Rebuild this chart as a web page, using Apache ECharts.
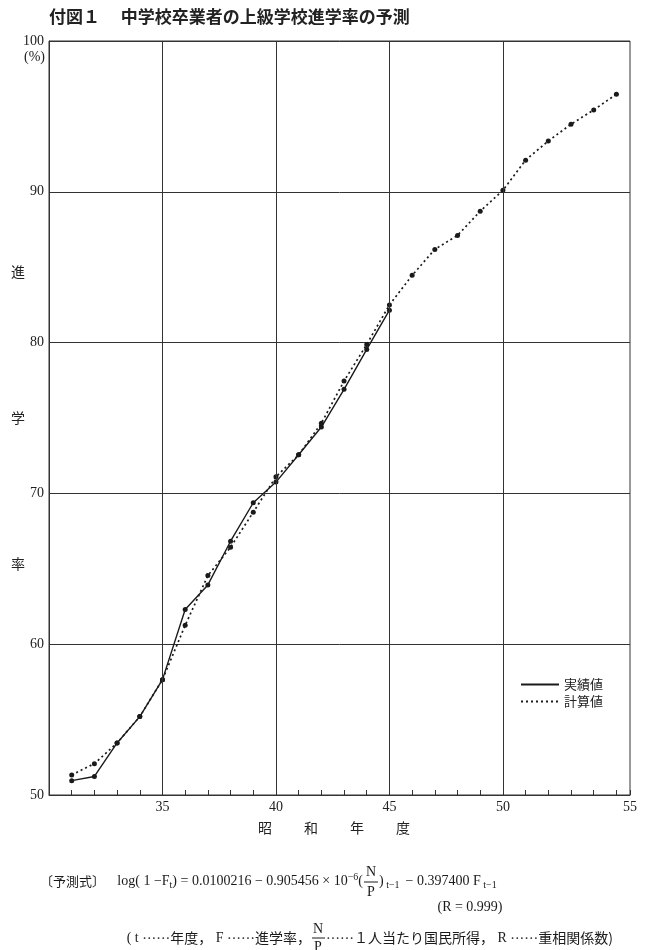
<!DOCTYPE html>
<html><head><meta charset="utf-8">
<script src="https://cdn.jsdelivr.net/npm/echarts@6/dist/echarts.min.js"></script>
<style>html,body{margin:0;padding:0;background:#fff}#c{width:645px;height:950px}</style>
</head><body><div id="c"></div>
<script>
// ---- data ----
const actualYears = [31,32,33,34,35,36,37,38,39,40,41,42,43,44,45];
const actualValues = [50.95,51.23,53.45,55.2,57.65,62.3,63.93,66.83,69.38,70.75,72.56,74.4,76.9,79.55,82.15];
const calcYears = [31,32,33,34,35,36,37,38,39,40,41,42,43,44,45,46,47,48,49,50,51,52,53,54,55];
const calcValues = [51.33,52.08,53.45,55.2,57.65,61.25,64.55,66.43,68.75,71.1,72.56,74.65,77.45,79.88,82.5,84.46,86.18,87.11,88.71,90.1,92.1,93.37,94.48,95.43,96.47];
const xTickLabels = [35,40,45,50,55];
const xGridValues = [35,40,45,50];
const yTickLabels = [50,60,70,80,90,100];
const seriesNames = ['実績値','計算値'];

const SERIF = "'Liberation Serif','Noto Sans CJK JP',serif";
const JP = "'Noto Sans CJK JP',sans-serif";
const INK = '#1a1a1a';

const chart = echarts.init(document.getElementById('c'), null, {renderer:'canvas'});

const mainRich = {
  m:{fontSize:14, lineHeight:18, fontFamily:SERIF, fill:INK, color:INK},
  j:{fontSize:14, lineHeight:18, fontFamily:JP, fill:INK, color:INK},
  s:{fontSize:10, lineHeight:8, fontFamily:SERIF, fill:INK, color:INK, verticalAlign:'bottom'},
  p:{fontSize:10, lineHeight:8, fontFamily:SERIF, fill:INK, color:INK, verticalAlign:'top'}
};

const option = {
  animation:false,
  backgroundColor:'#fff',
  title:{
    text:'付図１　 中学校卒業者の上級学校進学率の予測',
    left:44, top:3,
    textStyle:{fontSize:17, fontWeight:'bold', fontFamily:JP, color:'#222'}
  },
  legend:{
    left:520, top:678, orient:'vertical', padding:0,
    itemWidth:38, itemHeight:10, itemGap:4,
    itemStyle:{opacity:0},
    textStyle:{fontSize:13, fontFamily:JP, color:'#222'},
    data:seriesNames
  },
  grid:{left:49, right:15, top:41, bottom:155, show:true, borderColor:'#333', borderWidth:1, backgroundColor:'transparent'},
  xAxis:{
    type:'value', min:30, max:55.6, interval:1,
    axisLine:{show:true, lineStyle:{color:'#333', width:1}},
    axisTick:{show:true, inside:true, length:5, lineStyle:{color:'#333'}},
    splitLine:{show:false},
    axisLabel:{
      show:true, margin:5, showMaxLabel:true, showMinLabel:true,
      fontSize:14, fontFamily:SERIF, color:'#222',
      formatter:v => {
        if (v > 55) return String(xTickLabels[xTickLabels.length-1]);
        return (xTickLabels.indexOf(v) >= 0 && v < 55) ? String(v) : '';
      }
    },
    name:'{c|昭}{c|和}{c|年}{c|度}', nameLocation:'middle', nameGap:26,
    nameTextStyle:{padding:[0,11,0,0], rich:{c:{width:46, align:'center', fontSize:14, fontFamily:JP, color:'#222'}}}
  },
  yAxis:{
    type:'value', min:50, max:100, interval:10,
    axisLine:{show:true, lineStyle:{color:'#333', width:1}},
    axisTick:{show:false},
    splitLine:{show:true, lineStyle:{color:'#333', width:1}},
    axisLabel:{margin:5, fontSize:14, fontFamily:SERIF, color:'#222',
      formatter:v => yTickLabels.indexOf(v) >= 0 ? String(v) : ''},
    name:'進\n学\n率', nameLocation:'middle', nameRotate:0, nameGap:24, nameMoveOverlap:false,
    nameTextStyle:{fontSize:14, lineHeight:146, fontFamily:JP, color:'#222'}
  },
  series:[
    {
      name:seriesNames[0], type:'line',
      data:actualYears.map((y,i)=>[y, actualValues[i]]),
      symbol:'circle', symbolSize:5, showSymbol:true,
      lineStyle:{color:INK, width:1.4, type:'solid'},
      itemStyle:{color:INK}, z:3,
      markLine:{
        silent:true, symbol:'none', label:{show:false}, animation:false,
        lineStyle:{color:'#333', width:1, type:'solid'},
        data:xGridValues.map(v=>({xAxis:v}))
      }
    },
    {
      name:seriesNames[1], type:'line',
      data:calcYears.map((y,i)=>[y, calcValues[i]]),
      symbol:'circle', symbolSize:5, showSymbol:true,
      lineStyle:{color:INK, width:1.7, type:[2,3]},
      itemStyle:{color:INK}, z:4
    }
  ],
  graphic:[
    {type:'text', x:45, y:57, style:{text:'(%)', font:'14px '+SERIF, fill:'#222', align:'right', verticalAlign:'middle', textAlign:'right', textVerticalAlign:'middle'}},
    // formula line 1
    {type:'text', x:40, y:881, style:{text:'〔予測式〕', font:'13px '+JP, fill:INK, align:'left', verticalAlign:'middle', textAlign:'left', textVerticalAlign:'middle'}},
    {type:'text', x:363, y:881, style:{
      text:'{m|log( 1 −F}{s|t}{m|) = 0.0100216 − 0.905456 × 10}{p|−6}{m|(}',
      rich:mainRich, align:'right', verticalAlign:'middle', textAlign:'right', textVerticalAlign:'middle'}},
    {type:'text', x:371, y:872, style:{text:'N', font:'14px '+SERIF, fill:INK, align:'center', verticalAlign:'middle', textAlign:'center', textVerticalAlign:'middle'}},
    {type:'line', shape:{x1:364, y1:882, x2:378, y2:882}, style:{stroke:INK, lineWidth:1}},
    {type:'text', x:371, y:892, style:{text:'P', font:'14px '+SERIF, fill:INK, align:'center', verticalAlign:'middle', textAlign:'center', textVerticalAlign:'middle'}},
    {type:'text', x:379, y:881, style:{
      text:'{m|)}{s| t−1 }{m| − 0.397400 F}{s| t−1}',
      rich:mainRich, align:'left', verticalAlign:'middle', textAlign:'left', textVerticalAlign:'middle'}},
    // line 2
    {type:'text', x:470, y:907, style:{text:'(R = 0.999)', font:'14px '+SERIF, fill:INK, align:'center', verticalAlign:'middle', textAlign:'center', textVerticalAlign:'middle'}},
    // line 3
    {type:'text', x:311, y:938, style:{
      text:'{m|( t }{j|……年度，}{m| F }{j|……進学率，}',
      rich:mainRich, align:'right', verticalAlign:'middle', textAlign:'right', textVerticalAlign:'middle'}},
    {type:'text', x:318, y:929, style:{text:'N', font:'14px '+SERIF, fill:INK, align:'center', verticalAlign:'middle', textAlign:'center', textVerticalAlign:'middle'}},
    {type:'line', shape:{x1:312, y1:938, x2:325, y2:938}, style:{stroke:INK, lineWidth:1}},
    {type:'text', x:318, y:947, style:{text:'P', font:'14px '+SERIF, fill:INK, align:'center', verticalAlign:'middle', textAlign:'center', textVerticalAlign:'middle'}},
    {type:'text', x:326, y:938, style:{
      text:'{j|……１人当たり国民所得，}{m| R }{j|……重相関係数)}',
      rich:mainRich, align:'left', verticalAlign:'middle', textAlign:'left', textVerticalAlign:'middle'}}
  ]
};
chart.setOption(option);
</script>
</body></html>
